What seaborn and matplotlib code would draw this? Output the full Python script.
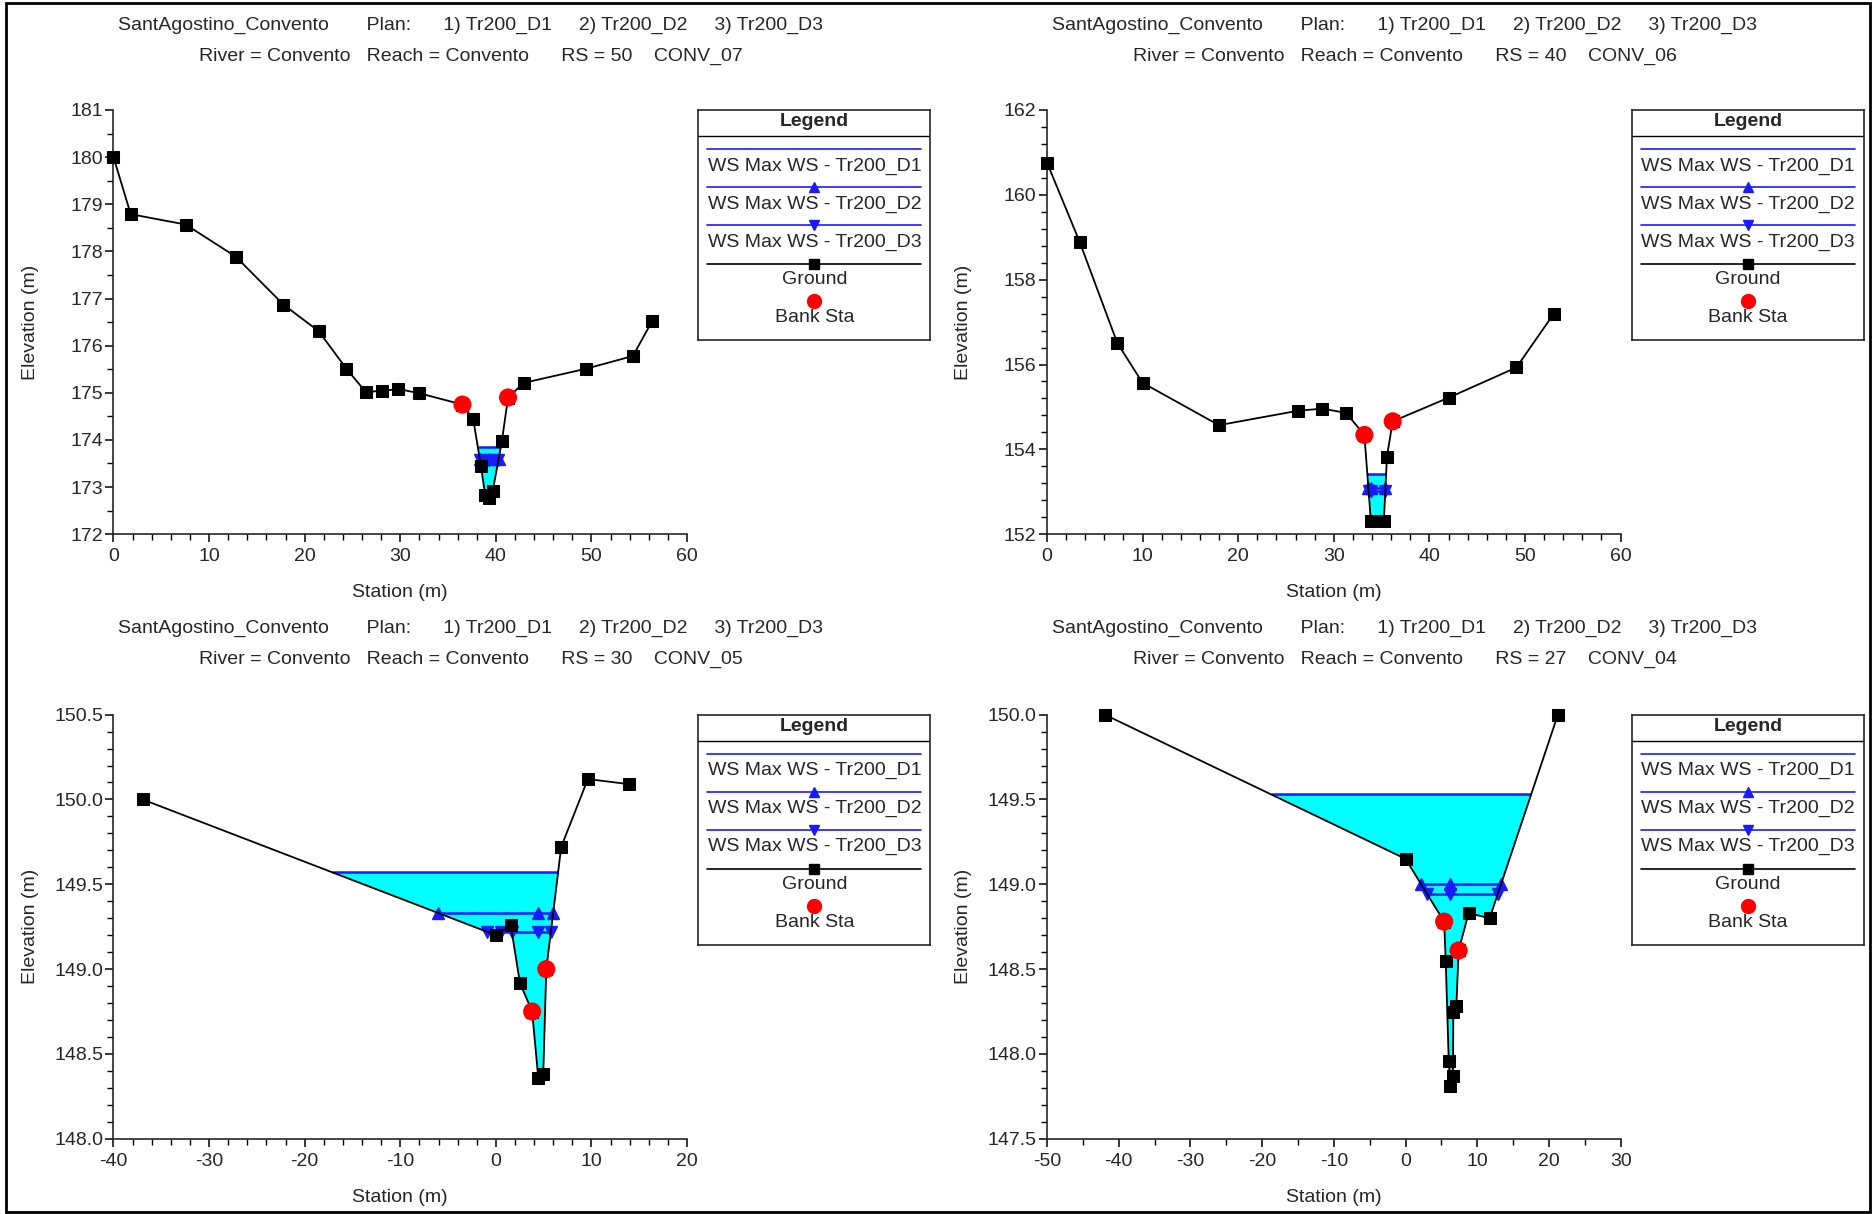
import numpy as np
import matplotlib
matplotlib.use('Agg')
import matplotlib.pyplot as plt
from matplotlib.ticker import MultipleLocator, FormatStrFormatter
from matplotlib.patches import Rectangle
import seaborn as sns

project = 'SantAgostino_Convento'
plans = ['Tr200_D1', 'Tr200_D2', 'Tr200_D3']
rs_ids = ['50', '40', '30', '27']
rs_names = ['CONV_07', 'CONV_06', 'CONV_05', 'CONV_04']

sta_50 = [0, 1.80, 7.55, 12.78, 17.78, 21.45, 24.37, 26.37, 28.05, 29.80, 32.0, 36.5,
          37.63, 38.43, 38.87, 39.27, 39.67, 40.63, 41.27, 42.9, 49.42, 54.33, 56.37]
elev_50 = [180.0, 178.79, 178.57, 177.89, 176.87, 176.31, 175.51, 175.02, 175.04, 175.08,
           174.99, 174.75, 174.44, 173.45, 172.84, 172.77, 172.92, 173.98, 174.90, 175.21,
           175.51, 175.78, 176.53]
bank_50 = [36.5, 41.27]
ws_50 = [173.85, 173.60, 173.58]

sta_40 = [0, 3.40, 7.35, 9.99, 17.98, 26.25, 28.80, 31.28, 33.20, 33.88, 35.24, 35.56,
          36.16, 42.03, 49.10, 53.02]
elev_40 = [160.76, 158.90, 156.51, 155.57, 154.57, 154.91, 154.96, 154.86, 154.34, 152.30,
           152.32, 153.83, 154.66, 155.22, 155.93, 157.20]
bank_40 = [33.20, 36.16]
ws_40 = [153.41, 153.10, 153.02]

sta_30 = [-36.96, 0.0, 1.55, 2.51, 3.79, 4.43, 4.95, 5.27, 6.83, 9.62, 13.94]
elev_30 = [150.0, 149.20, 149.26, 148.92, 148.75, 148.36, 148.38, 149.00, 149.72, 150.12, 150.09]
bank_30 = [3.79, 5.27]
ws_30 = [149.57, 149.33, 149.22]

sta_27 = [-41.96, 0.0, 5.39, 5.61, 6.03, 6.24, 6.62, 6.67, 7.09, 7.41, 8.80, 11.73, 21.26]
elev_27 = [150.0, 149.15, 148.78, 148.55, 147.96, 147.81, 147.87, 148.25, 148.28, 148.61,
           148.83, 148.80, 150.0]
bank_27 = [5.39, 7.41]
ws_27 = [149.53, 149.00, 148.94]

sections = [
    (sta_50, elev_50, bank_50, ws_50, (0, 60, 10, 2), (172, 181, 1, 0.5), '%d'),
    (sta_40, elev_40, bank_40, ws_40, (0, 60, 10, 2), (152, 162, 2, 0.4), '%d'),
    (sta_30, elev_30, bank_30, ws_30, (-40, 20, 10, 2), (148, 150.5, 0.5, 0.1), '%.1f'),
    (sta_27, elev_27, bank_27, ws_27, (-50, 30, 10, 5), (147.5, 150, 0.5, 0.1), '%.1f'),
]

W, H = 1874, 1214
sns.set_style('ticks')
plt.rcParams['font.family'] = ['Liberation Sans', 'DejaVu Sans']
plt.rcParams['axes.unicode_minus'] = False

fig = plt.figure(figsize=(W / 100, H / 100), dpi=100)
fig.patches.append(Rectangle((6 / W, 1 - 1212 / H), 1864 / W, 1209 / H,
                             transform=fig.transFigure, fill=False, lw=2, ec='black'))

WS_BLUE = '#1a1aff'
CYAN = '#00ffff'
FS = 14


def crossings(xs, zs, level):
    pts = []
    for i in range(len(xs) - 1):
        a, b = zs[i] - level, zs[i + 1] - level
        if a == 0:
            pts.append(xs[i])
        elif a * b < 0:
            pts.append(xs[i] + (xs[i + 1] - xs[i]) * a / (a - b))
    return pts


ax_px = [(113.5, 110), (1047, 110), (113.5, 714.6), (1047, 714.6)]
ax_w, ax_h = 573.6, 424.2
title_x = [471 / W, 1405 / W, 471 / W, 1405 / W]
title_y = [25, 25, 628, 628]

for k, (sta, elev, bank, ws, xs_, ys_, yfmt) in enumerate(sections):
    left, top = ax_px[k]
    ax = fig.add_axes([left / W, 1 - (top + ax_h) / H, ax_w / W, ax_h / H])
    x = np.array(sta)
    z = np.array(elev)

    # water fill to the highest plan
    ax.fill_between(x, z, ws[0], where=z <= ws[0], interpolate=True,
                    color=CYAN, lw=0, zorder=1)
    thalweg = x[np.argmin(z)]
    for j, level in enumerate(ws):
        pts = crossings(x, z, level)
        ax.hlines(level, min(pts), max(pts), color=WS_BLUE, lw=1.8, zorder=2)
        if j > 0:
            mk = '^' if j == 1 else 'v'
            mx = pts + [thalweg]
            ax.plot(mx, [level] * len(mx), ls='none', marker=mk, color=WS_BLUE,
                    ms=8, zorder=3)

    sns.lineplot(x=x, y=z, ax=ax, color='black', lw=1.3, marker='s', ms=8,
                 markeredgecolor='black', sort=False, estimator=None, zorder=4,
                 clip_on=False)
    bank_z = np.interp(bank, x, z)
    sns.scatterplot(x=bank, y=bank_z, ax=ax, color='red', s=170, edgecolor='none',
                    zorder=5, clip_on=False)

    ax.set_xlim(xs_[0], xs_[1])
    ax.set_ylim(ys_[0], ys_[1])
    ax.xaxis.set_major_locator(MultipleLocator(xs_[2]))
    ax.xaxis.set_minor_locator(MultipleLocator(xs_[3]))
    ax.yaxis.set_major_locator(MultipleLocator(ys_[2]))
    ax.yaxis.set_minor_locator(MultipleLocator(ys_[3]))
    ax.yaxis.set_major_formatter(FormatStrFormatter(yfmt))
    sns.despine(ax=ax)
    for s in ['left', 'bottom']:
        ax.spines[s].set_linewidth(1.2)
    ax.tick_params(which='major', length=6, width=1.1, labelsize=FS, color='black')
    ax.tick_params(which='minor', length=4, width=1.0, color='black')
    ax.tick_params(axis='y', which='major', pad=1.5)
    ax.tick_params(axis='x', which='major', pad=4)
    ax.set_xlabel('Station (m)', fontsize=FS)
    ax.set_ylabel('Elevation (m)', fontsize=FS)
    ax.xaxis.set_label_coords(0.5, -0.118)
    ax.yaxis.set_label_coords(-0.130, 0.5)

    # headings
    fig.text(title_x[k], 1 - title_y[k] / H,
             f'{project}       Plan:      1) {plans[0]}     2) {plans[1]}     3) {plans[2]}',
             ha='center', va='center', fontsize=FS)
    fig.text(title_x[k], 1 - (title_y[k] + 31) / H,
             f'River = Convento   Reach = Convento      RS = {rs_ids[k]}    {rs_names[k]}',
             ha='center', va='center', fontsize=FS)

    # legend box
    lg_l = left + 585
    lg = fig.add_axes([lg_l / W, 1 - (top + 230) / H, 232 / W, 230 / H])
    lg.set_xlim(0, 232)
    lg.set_ylim(230, 0)
    lg.set_xticks([])
    lg.set_yticks([])
    for s in lg.spines.values():
        s.set_linewidth(1.2)
    lg.text(116, 12, 'Legend', ha='center', va='center', fontsize=FS, fontweight='bold')
    lg.plot([0, 232], [26, 26], color='black', lw=1)
    line_y = [39, 77, 115, 154]
    text_y = [56, 94, 132, 170]
    labels = [f'WS Max WS - {p}' for p in plans] + ['Ground']
    styles = [(WS_BLUE, None), (WS_BLUE, '^'), (WS_BLUE, 'v'), ('black', 's')]
    for ly, ty, lab, (c, m) in zip(line_y, text_y, labels, styles):
        lg.plot([9, 223], [ly, ly], color=c, lw=1.2)
        if m:
            lg.plot([116], [ly], marker=m, color=c, ms=7, ls='none')
        lg.text(116, ty, lab, ha='center', va='center', fontsize=FS)
    lg.plot([116], [191], marker='o', color='red', ms=10, ls='none')
    lg.text(116, 208, 'Bank Sta', ha='center', va='center', fontsize=FS)

fig.savefig('out.png', dpi=100)
